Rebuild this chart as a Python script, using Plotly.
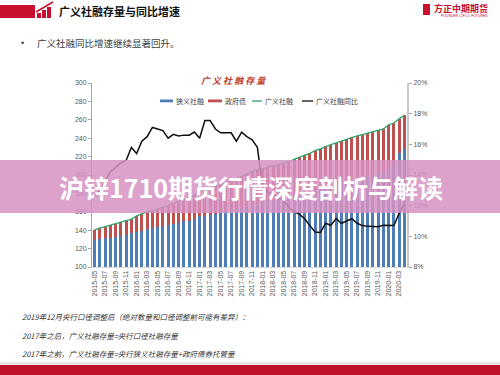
import plotly.graph_objects as go
import pandas as pd

# ---------------- data ----------------
months = list(pd.period_range("2015-05", periods=60, freq="M").strftime("%Y-%m"))

narrow = [129, 130, 131, 132, 133, 134, 135, 136.5, 138.5, 139.5,
          141, 142, 143, 144.5, 145.5, 146.5, 148, 149.5, 150.5, 152,
          155, 155.5, 157, 158, 159.5, 161, 162, 163, 164.5, 166,
          167, 168.5, 171, 172, 173, 174, 175, 176.5, 178, 179.5,
          181, 182, 184, 185.5, 187, 188.5, 190, 191.5, 193, 194.5,
          196, 197.5, 199, 200.5, 202, 203.5, 208, 212, 224, 228]

gov = [11.5, 12.5, 13, 13.5, 14, 14.5, 15, 15.5, 17, 18.5,
       19, 19.5, 20, 20.5, 21.5, 22.5, 23, 24, 25.5, 26,
       26.5, 27.5, 28.5, 29.5, 30, 30.5, 31.5, 33, 34, 35,
       37, 37.5, 36, 36.5, 36.5, 37, 37.5, 38, 39, 40,
       40.5, 41.5, 42.5, 43, 44, 44.5, 45, 45.5, 46, 46.5,
       46.5, 46.5, 46.5, 46.5, 46.5, 46.5, 46.5, 44.5, 37, 37]

total = [140.5, 142.5, 144, 145.5, 147, 148.5, 150, 152, 155.5, 158,
         160, 161.5, 163, 165, 167, 169, 171, 173.5, 176, 178,
         181.5, 183, 185.5, 187.5, 189.5, 191.5, 193.5, 196, 198.5, 201,
         204, 206, 207, 208.5, 209.5, 211, 212.5, 214.5, 217, 219.5,
         221.5, 223.5, 226.5, 228.5, 231, 233, 235, 237, 239, 241,
         242.5, 244, 245.5, 247, 248.5, 250, 254.5, 256.5, 261, 265]

yoy_pct = [12.6, 13.0, 13.6, 14.2, 14.5, 14.8, 14.95, 15.8, 15.4, 16.2,
           16.5, 17.1, 17.0, 16.9, 16.4, 16.65, 16.55, 16.6, 16.6, 16.8,
           16.4, 17.55, 17.55, 17.0, 16.75, 16.75, 16.75, 16.2, 16.8, 16.5,
           16.3, 15.8, 13.2, 12.9, 12.7, 12.6, 12.3, 11.9, 11.6, 11.45,
           11.15, 10.7, 10.28, 10.25, 10.85, 10.72, 11.16, 10.85, 11.0, 11.15,
           10.85, 10.7, 10.65, 10.62, 10.62, 10.72, 10.72, 10.7, 11.5, 12.1]

tick_labels = months[::2]

# ---------------- styles ----------------
BLUE = "#4F7DB5"
RED = "#C0504D"
GREEN = "#2FA36B"
CJK = "Noto Sans CJK SC"
LAT = "Liberation Sans"

W, H = 500, 375
L, R, T, B = 92, 93, 83, 108
PW, PH = W - L - R, H - T - B


def px(x):
    return (x - L) / PW


def py(y):
    return (H - B - y) / PH


fig = go.Figure()
fig.add_bar(x=months, y=narrow, marker=dict(color=BLUE, line=dict(width=0)), name="狭义社融")
fig.add_bar(x=months, y=gov, marker=dict(color=RED, line=dict(width=0)), name="政府债")
fig.add_scatter(x=months, y=total, mode="lines", line=dict(color=GREEN, width=1.3), name="广义社融")
fig.add_scatter(x=months, y=[v / 100 for v in yoy_pct], yaxis="y2", mode="lines",
                line=dict(color="#111111", width=1.5), name="广义社融同比")

shapes = []
ann = []

# header
shapes.append(dict(type="rect", xref="paper", yref="paper", x0=px(0), x1=px(35), y0=py(18), y1=py(5),
                   fillcolor="#C8102E", line=dict(width=0), layer="above"))
for (a, b, top) in [(37, 41, 13), (42, 46, 10), (47, 51, 7)]:
    shapes.append(dict(type="rect", xref="paper", yref="paper", x0=px(a), x1=px(b), y0=py(18), y1=py(top),
                       fillcolor="#C8102E", line=dict(width=0), layer="above"))
shapes.append(dict(type="line", xref="paper", yref="paper", x0=px(36), x1=px(53), y0=py(12), y1=py(2),
                   line=dict(color="#C8102E", width=1.5), layer="above"))
ann.append(dict(text="<b>广义社融存量与同比增速</b>", x=px(57), y=py(11), xref="paper", yref="paper",
                xanchor="left", yanchor="middle", showarrow=False,
                font=dict(family=CJK, size=11, color="#111111")))
ann.append(dict(text="<b>方正中期期货</b>", x=px(490), y=py(8), xref="paper", yref="paper",
                xanchor="right", yanchor="middle", showarrow=False,
                font=dict(family=CJK, size=9, color="#C8102E")))
ann.append(dict(text="FOUNDER CIFCO FUTURES", x=px(490), y=py(16.5), xref="paper", yref="paper",
                xanchor="right", yanchor="middle", showarrow=False,
                font=dict(family=LAT, size=3.5, color="#C8102E")))
shapes.append(dict(type="rect", xref="paper", yref="paper", x0=px(423), x1=px(430), y0=py(15), y1=py(4),
                   fillcolor="#C8102E", line=dict(width=0), layer="above"))

# bullet
ann.append(dict(text="•", x=px(22), y=py(43), xref="paper", yref="paper", xanchor="center", yanchor="middle",
                showarrow=False, font=dict(family=LAT, size=9, color="#404040")))
ann.append(dict(text="广义社融同比增速继续显著回升。", x=px(35), y=py(43), xref="paper", yref="paper",
                xanchor="left", yanchor="middle", showarrow=False,
                font=dict(family=CJK, size=9.5, color="#404040")))

# chart title
ann.append(dict(text="<i><b>广 义 社 融 存 量</b></i>", x=px(233), y=py(80), xref="paper", yref="paper",
                xanchor="center", yanchor="middle", showarrow=False,
                font=dict(family=CJK, size=9, color="#C0392B")))

# legend (manual)
shapes.append(dict(type="rect", xref="paper", yref="paper", x0=px(160), x1=px(173), y0=py(102.3), y1=py(99.5),
                   fillcolor=BLUE, line=dict(width=0)))
shapes.append(dict(type="rect", xref="paper", yref="paper", x0=px(208), x1=px(222), y0=py(102.3), y1=py(99.5),
                   fillcolor=RED, line=dict(width=0)))
shapes.append(dict(type="line", xref="paper", yref="paper", x0=px(252), x1=px(262), y0=py(101), y1=py(101),
                   line=dict(color=GREEN, width=1.3)))
shapes.append(dict(type="line", xref="paper", yref="paper", x0=px(302), x1=px(313), y0=py(101), y1=py(101),
                   line=dict(color="#111111", width=1.3)))
for txt, x0 in [("狭义社融", 174), ("政府债", 223), ("广义社融", 263), ("广义社融同比", 314)]:
    ann.append(dict(text=txt, x=px(x0), y=py(101), xref="paper", yref="paper", xanchor="left",
                    yanchor="middle", showarrow=False, font=dict(family=CJK, size=7, color="#404040")))

# footer notes
notes = ["2019年12月央行口径调整后（绝对数量和口径调整前可能有差异）：",
         "2017年之后，广义社融存量=央行口径社融存量",
         "2017年之前，广义社融存量=央行狭义社融存量+政府债券托管量"]
for txt, yy in zip(notes, [316, 335, 353]):
    ann.append(dict(text="<i>" + txt + "</i>", x=px(20), y=py(yy), xref="paper", yref="paper",
                    xanchor="left", yanchor="middle", showarrow=False,
                    font=dict(family=CJK, size=7.5, color="#333333")))
shapes.append(dict(type="rect", xref="paper", yref="paper", x0=px(0), x1=px(500), y0=py(365), y1=py(362),
                   fillcolor="#E6E6E6", line=dict(width=0), layer="above"))
shapes.append(dict(type="rect", xref="paper", yref="paper", x0=px(0), x1=px(500), y0=py(376), y1=py(365),
                   fillcolor="#C0102A", line=dict(width=0), layer="above"))

# overlay banner
shapes.append(dict(type="rect", xref="paper", yref="paper", x0=px(0), x1=px(500), y0=py(213), y1=py(160),
                   fillcolor="rgba(214,146,195,0.85)", line=dict(width=0), layer="above"))
ann.append(dict(text="<b>沪锌1710期货行情深度剖析与解读</b>", x=px(251), y=py(187), xref="paper", yref="paper",
                xanchor="center", yanchor="middle", showarrow=False,
                font=dict(family=CJK, size=25, color="#FFFFFF")))

fig.update_layout(
    width=W, height=H,
    margin=dict(l=L, r=R, t=T, b=B, pad=0),
    paper_bgcolor="white", plot_bgcolor="white",
    barmode="stack", bargap=0.45,
    showlegend=False,
    font=dict(family=LAT, size=7, color="#595959"),
    xaxis=dict(type="category", categoryorder="array", categoryarray=months,
               range=[-0.5, 59.5], tickmode="array", tickvals=tick_labels, ticktext=tick_labels,
               tickangle=-90, tickfont=dict(size=7, color="#595959", family=LAT),
               showline=True, linecolor="#D9D9D9", ticks="", showgrid=False, automargin=False),
    yaxis=dict(range=[100, 300], dtick=20, showgrid=False, zeroline=False,
               showline=True, linecolor="#A6A6A6", linewidth=1, ticks="outside", ticklen=3,
               tickcolor="#A6A6A6", tickfont=dict(size=7, color="#595959", family=LAT), automargin=False),
    yaxis2=dict(overlaying="y", side="right", range=[0.08, 0.20], dtick=0.02, tickformat=".0%",
                showgrid=False, zeroline=False, showline=True, linecolor="#C8C8C8", linewidth=2,
                ticks="outside", ticklen=3, tickcolor="#A6A6A6",
                tickfont=dict(size=7, color="#595959", family=LAT), automargin=False),
    shapes=shapes,
    annotations=ann,
)

fig.write_html("out.html", config={"displayModeBar": False},
               post_script="document.body.style.margin='0';document.body.style.overflow='hidden';")
